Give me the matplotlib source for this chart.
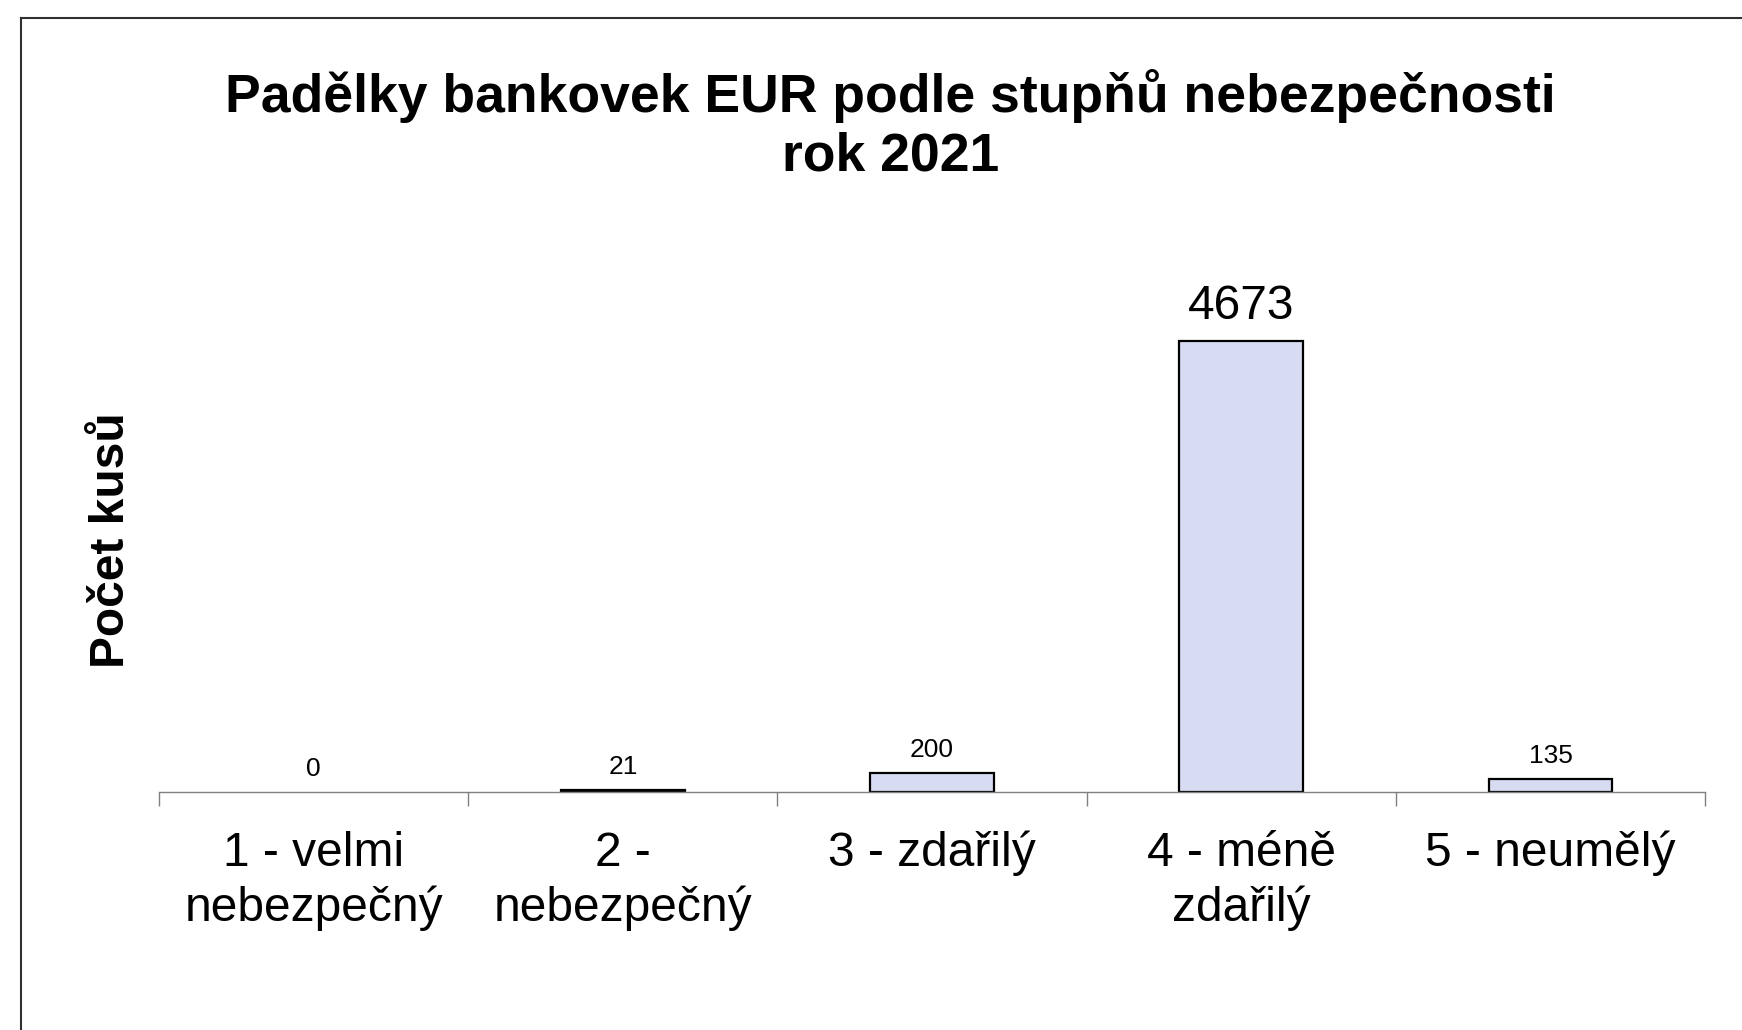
import matplotlib.pyplot as plt
from matplotlib.lines import Line2D

plt.rcParams['font.family'] = ['Liberation Sans', 'DejaVu Sans']

kategorie = ['1 - velmi\nnebezpečný', '2 -\nnebezpečný', '3 - zdařilý',
             '4 - méně\nzdařilý', '5 - neumělý']
pocty = [0, 21, 200, 4673, 135]
# velikost popisku nad sloupcem (nejvyssi sloupec ma vetsi popisek)
popisky_velke = [False, False, False, True, False]

fig = plt.figure(figsize=(17.42, 10.30), dpi=100)
ax = fig.add_axes([0.0913, 0.2311, 0.8875, 0.4685])

x = list(range(len(kategorie)))
okraje = ['black' if v > 0 else 'none' for v in pocty]
bars = ax.bar(x, pocty, width=0.4, color='#D8DCF2', edgecolor=okraje, linewidth=1.6)

for rect, v, velky in zip(bars, pocty, popisky_velke):
    ax.annotate(str(v), (rect.get_x() + rect.get_width() / 2, v),
                xytext=(0, 16 if velky else 11.5), textcoords='offset points',
                ha='center', va='baseline', fontsize=34.5 if velky else 19)

ax.set_xlim(-0.5, len(kategorie) - 0.5)
ax.set_ylim(0, 5000)
ax.set_yticks([])
ax.set_xticks([i - 0.5 for i in range(len(kategorie) + 1)])
ax.set_xticklabels([])
ax.set_xticks(x, minor=True)
ax.set_xticklabels(kategorie, minor=True, fontsize=34.5, linespacing=1.26)
ax.tick_params(axis='x', which='major', length=10, width=1, color='#808080', direction='out')
ax.tick_params(axis='x', which='minor', length=0, pad=28)

for s in ['top', 'right', 'left']:
    ax.spines[s].set_visible(False)
ax.spines['bottom'].set_color('#808080')
ax.spines['bottom'].set_linewidth(1)

fig.text(0.511, 0.878, 'Padělky bankovek EUR podle stupňů nebezpečnosti\nrok 2021',
         ha='center', va='center', fontsize=38.5, fontweight='bold', linespacing=1.22)
fig.text(0.064, 0.4757, 'Počet kusů', rotation=90, ha='center', va='center',
         fontsize=34.5, fontweight='bold')

# ramecek vlevo a nahore
fig.add_artist(Line2D([21 / 1742, 21 / 1742], [0, 1 - 18 / 1030],
                      transform=fig.transFigure, color='#303030', lw=1.5))
fig.add_artist(Line2D([21 / 1742, 1], [1 - 18 / 1030, 1 - 18 / 1030],
                      transform=fig.transFigure, color='#303030', lw=1.5))

fig.savefig('out.png', dpi=100)
